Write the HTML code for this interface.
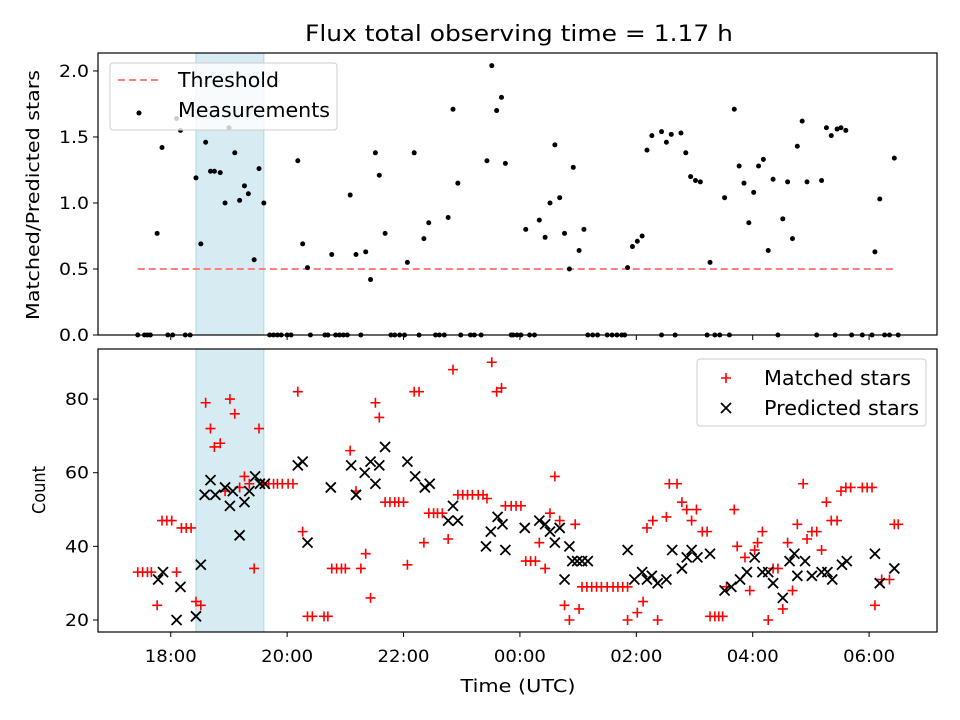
<!DOCTYPE html>
<html><head><meta charset="utf-8"><style>
body{margin:0;background:#fff}
svg{display:block;font-family:"DejaVu Sans","Liberation Sans",sans-serif}
</style></head><body>
<svg id="fig" width="960" height="720" viewBox="0 0 960 720"></svg>
<script>
// times in minutes since 18:00 UTC
const ratioT = [-33,-14,-9,6,10,26,31,36,41,45,51,56,60,66,71,76,80,86,91,96,131,136,141,166,185,191,201,206,211,215,221,244,251,261,266,286,291,296,326,331,336,341,345,366,380,386,391,396,401,406,411,415,421,426,471,476,481,486,491,496,506,511,516,526,531,536,541,546,556,571,581,586,591,596,601,606,611,616,621,631,636,641,646,651,656,671,676,681,687,691,696,726,731,746];
const ratioV = [1.68,0.77,1.42,1.64,1.55,1.19,0.69,1.46,1.24,1.24,1.23,1.00,1.57,1.38,1.02,1.13,1.07,0.57,1.26,1.00,1.32,0.69,0.51,0.61,1.06,0.61,0.63,0.42,1.38,1.21,0.77,0.55,1.38,0.73,0.85,0.89,1.71,1.15,1.32,2.04,1.70,1.80,1.30,0.80,0.87,0.74,1.00,1.44,1.04,0.77,0.50,1.27,0.64,0.80,0.51,0.67,0.71,0.75,1.40,1.51,1.54,1.46,1.52,1.53,1.38,1.20,1.17,1.16,0.55,1.04,1.71,1.28,1.15,0.85,1.08,1.28,1.33,0.64,1.18,0.88,1.16,0.73,1.43,1.62,1.16,1.17,1.57,1.51,1.56,1.57,1.55,0.63,1.03,1.34];
const zeroT = [-34,-27,-24,-21,-3,2,15,20,102,106,110,114,120,124,144,159,162,170,174,178,182,196,227,231,236,241,256,273,277,282,299,309,313,320,351,353,357,361,370,375,430,435,440,450,455,460,465,468,506,520,553,561,566,576,626,666,685,702,713,723,736,741,750];
const matchedT = [-34,-29,-24,-20,-14,-9,-4,1,6,11,16,21,26,31,36,41,45,51,56,61,66,71,76,81,86,91,96,101,106,110,115,121,126,131,136,141,146,158,162,166,171,176,180,185,191,196,201,206,211,215,221,226,231,235,240,244,251,256,261,266,271,275,280,286,291,296,301,306,311,317,322,326,331,336,341,345,351,356,361,366,371,376,380,386,391,396,401,406,411,417,421,424,429,434,439,444,450,456,461,466,471,471,481,487,491,497,502,511,514,522,527,532,537,542,548,553,556,561,565,569,573,581,584,592,597,602,605,610,616,621,626,631,636,641,646,652,656,661,666,671,676,681,687,691,696,701,713,718,723,726,733,741,746,750];
const matchedV = [33,33,33,33,24,47,47,47,33,45,45,45,25,24,79,72,67,68,55,80,76,56,59,57,34,72,57,57,57,57,57,57,57,82,44,21,21,21,21,34,34,34,34,66,55,34,38,26,79,75,52,52,52,52,52,35,82,82,41,49,49,49,49,42,88,54,54,54,54,54,54,53,90,82,83,51,51,51,51,36,36,36,41,34,49,59,47,24,20,46,23,29,29,29,29,29,29,29,29,29,29,20,22,25,45,47,20,48,57,57,52,50,47,50,44,44,21,21,21,21,29,50,40,37,28,39,41,44,20,34,34,23,41,28,46,57,42,44,44,39,52,47,47,55,56,56,56,56,56,24,31,31,46,46];
const predT = [-13,-8,6,10,26,31,35,41,46,56,61,64,71,76,81,87,92,97,131,136,141,165,186,191,200,206,211,215,221,244,252,262,267,286,291,296,325,330,337,342,345,365,380,386,391,396,401,406,411,414,419,424,430,471,478,486,491,496,502,511,517,527,532,537,543,556,571,578,587,594,602,610,616,621,631,638,643,646,654,661,671,677,682,692,697,726,731,746];
const predV = [31,33,20,29,21,35,54,58,54,56,51,55,43,52,55,59,57,57,62,63,41,56,62,54,60,63,57,62,67,63,59,56,57,47,51,47,40,44,48,46,39,45,47,46,44,41,45,31,40,36,36,36,36,39,31,33,31,32,30,31,39,34,37,39,37,38,28,29,31,33,37,33,33,30,26,36,38,32,36,32,33,33,31,35,36,38,30,34];
const xTickVals = [0,120,240,360,480,600,720];
const xTickLabels = ["18:00","20:00","22:00","00:00","02:00","04:00","06:00"];
const topYTicks = [0,0.5,1.0,1.5,2.0];
const botYTicks = [20,40,60,80];
const threshold = 0.5;
const threshRange = [-34,746];
const shade = [26,96];

const NS="http://www.w3.org/2000/svg";
const svg=document.getElementById('fig');
function mk(tag,attrs,parent){const e=document.createElementNS(NS,tag);for(const k in attrs)e.setAttribute(k,attrs[k]);(parent||svg).appendChild(e);return e;}
const L=98,R=937;
const x=t=>L+(t+75)*(R-L)/865;
const T0=53,T1=335,B0=349,B1=632;
const yTop=v=>T1-v*(T1-T0)/2.136;
const yBot=v=>B1-(v-16.74)*(B1-B0)/(93.6-16.74);

let e;
// title
e=mk('text',{x:519,y:41,'text-anchor':'middle','font-size':'22',textLength:428,lengthAdjust:'spacingAndGlyphs'});e.textContent='Flux total observing time = 1.17 h';



function panel(y0,y1,name){
  const g=mk('g',{});
  
  
  const s=mk('rect',{x:x(shade[0]),y:y0,width:x(shade[1])-x(shade[0]),height:y1-y0,fill:'#add8e6','fill-opacity':0.5,stroke:'#add8e6'},g);
  
  
  return g;
}
const gt=panel(T0,T1,'top-panel');
const gb=panel(B0,B1,'bottom-panel');

e=mk('line',{x1:x(threshRange[0]),x2:x(threshRange[1]),y1:yTop(threshold),y2:yTop(threshold),stroke:'#ff7f7f','stroke-width':2,'stroke-dasharray':'7,4'},gt);


ratioT.forEach((t,i)=>{const c=mk('circle',{cx:x(t),cy:yTop(ratioV[i]),r:2.5,fill:'#000'},gt);

});
zeroT.forEach(t=>{const c=mk('circle',{cx:x(t),cy:yTop(0),r:2.5,fill:'#000'},gt);

});
matchedT.forEach((t,i)=>{const cx=x(t),cy=yBot(matchedV[i]);const p=mk('path',{d:`M${cx-5},${cy}H${cx+5}M${cx},${cy-5}V${cy+5}`,stroke:'#f00','stroke-width':1.6,fill:'none'},gb);

});
predT.forEach((t,i)=>{const cx=x(t),cy=yBot(predV[i]);const p=mk('path',{d:`M${cx-5},${cy-5}L${cx+5},${cy+5}M${cx-5},${cy+5}L${cx+5},${cy-5}`,stroke:'#000','stroke-width':1.8,fill:'none'},gb);

});

[[T0,T1],[B0,B1]].forEach(([a,b],pi)=>{
  const f=mk('rect',{x:L,y:a,width:R-L,height:b-a,fill:'none',stroke:'#000','stroke-width':1.2});
  
  
  xTickVals.forEach((t,i)=>{mk('line',{x1:x(t),x2:x(t),y1:b,y2:b+5,stroke:'#000'});
    if(pi){const tx=mk('text',{x:x(t),y:b+30,'text-anchor':'middle','font-size':'17',textLength:52,lengthAdjust:'spacingAndGlyphs'});tx.textContent=xTickLabels[i];
    
    }
  });
});
topYTicks.forEach(v=>{const y=yTop(v);mk('line',{x1:L-5,x2:L,y1:y,y2:y,stroke:'#000'});
  const t=mk('text',{x:L-9,y:y+6,'text-anchor':'end','font-size':'17',textLength:30,lengthAdjust:'spacingAndGlyphs'});t.textContent=v.toFixed(1);
  
  });
botYTicks.forEach(v=>{const y=yBot(v);mk('line',{x1:L-5,x2:L,y1:y,y2:y,stroke:'#000'});
  const t=mk('text',{x:L-9,y:y+6,'text-anchor':'end','font-size':'17',textLength:24,lengthAdjust:'spacingAndGlyphs'});t.textContent=v;
  
  });

e=mk('text',{x:518,y:692,'text-anchor':'middle','font-size':'18',textLength:115,lengthAdjust:'spacingAndGlyphs'});e.textContent='Time (UTC)';


e=mk('text',{x:0,y:0,'text-anchor':'middle','font-size':'18',textLength:250,lengthAdjust:'spacingAndGlyphs',transform:'translate(39,195) rotate(-90)'});e.textContent='Matched/Predicted stars';


e=mk('text',{x:0,y:0,'text-anchor':'middle','font-size':'18',textLength:48,lengthAdjust:'spacingAndGlyphs',transform:'translate(45,490) rotate(-90)'});e.textContent='Count';



let lg=mk('g',{});


mk('rect',{x:110,y:63,width:227,height:67,rx:3,fill:'#fff','fill-opacity':0.8,stroke:'#ccc'},lg);
mk('line',{x1:118,x2:158,y1:80,y2:80,stroke:'#ff7f7f','stroke-width':2,'stroke-dasharray':'7,4'},lg);
e=mk('text',{x:178,y:87,'font-size':'20',textLength:101,lengthAdjust:'spacingAndGlyphs'},lg);e.textContent='Threshold';


mk('circle',{cx:139,cy:113,r:2.5,fill:'#000'},lg);
e=mk('text',{x:178,y:117,'font-size':'20',textLength:152,lengthAdjust:'spacingAndGlyphs'},lg);e.textContent='Measurements';



lg=mk('g',{});


mk('rect',{x:697,y:359,width:229,height:67,rx:3,fill:'#fff','fill-opacity':0.8,stroke:'#ccc'},lg);
mk('path',{d:'M721,378H731M726,373V383',stroke:'#f00','stroke-width':1.6},lg);
e=mk('text',{x:764,y:385,'font-size':'20',textLength:147,lengthAdjust:'spacingAndGlyphs'},lg);e.textContent='Matched stars';


mk('path',{d:'M721,403L731,413M721,413L731,403',stroke:'#000','stroke-width':1.8},lg);
e=mk('text',{x:764,y:415,'font-size':'20',textLength:155,lengthAdjust:'spacingAndGlyphs'},lg);e.textContent='Predicted stars';


</script>
</body></html>
